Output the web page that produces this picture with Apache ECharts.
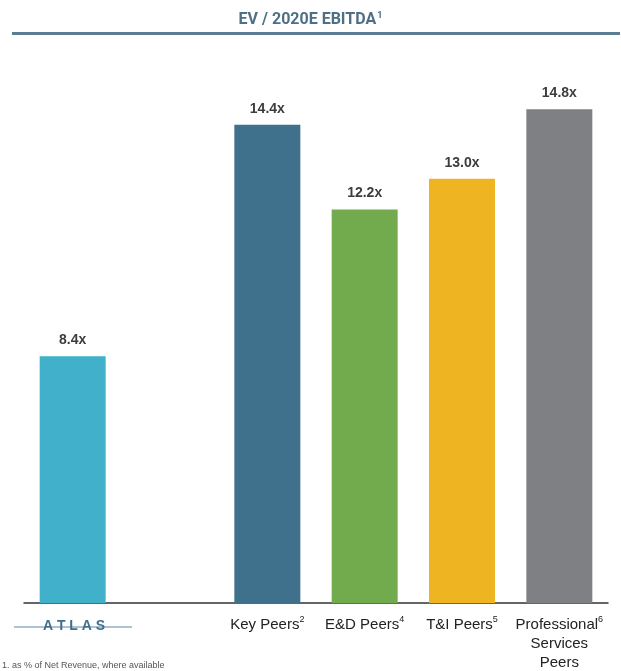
<!DOCTYPE html>
<html>
<head>
<meta charset="utf-8">
<script src="https://cdn.jsdelivr.net/npm/echarts@6/dist/echarts.min.js"></script>
<style>
  html, body { margin: 0; padding: 0; background: #fff; }
  #chart { width: 621px; height: 671px; }
</style>
</head>
<body>
<div id="chart"></div>
<script>
// categories (second slot is an empty gap between Atlas and the peers)
let cats = ['Atlas', '', 'Key Peers', 'E&D Peers', 'T&I Peers', 'Professional Services Peers'];
let notes = ['', '', '2', '4', '5', '6'];
let vals = [8.4, null, 14.4, 12.2, 13.0, 14.8];
let colors = ['#41b1cb', '#ffffff', '#3f718c', '#71ab4d', '#efb422', '#7f8084'];

let chart = echarts.init(document.getElementById('chart'));

chart.setOption({
  animation: false,
  title: {
    text: '{t|EV / 2020E EBITDA}{s|1}',
    left: 'center',
    top: 6,
    textStyle: {
      rich: {
        t: { fontFamily: 'Liberation Sans Narrow, Roboto', fontSize: 16, color: '#4e6f84', fontWeight: 'bold' },
        s: { fontFamily: 'Liberation Sans Narrow, Roboto', fontSize: 9, color: '#4e6f84', fontWeight: 'bold', verticalAlign: 'top', padding: [0, 0, 8, 1] }
      }
    }
  },
  grid: { left: 24, right: 13, top: 63, bottom: 68 },
  xAxis: {
    type: 'category',
    data: cats,
    axisTick: { show: false },
    axisLine: { lineStyle: { color: '#333', width: 1.5 } },
    axisLabel: {
      interval: 0,
      margin: 12,
      formatter: function (v, i) {
        if (i < 2) return '';
        let n = '{s|' + notes[i] + '}';
        if (v == 'Professional Services Peers') {
          return '{t|Professional}' + n + '\n{t|Services}\n{t|Peers}';
        }
        return '{t|' + v + '}' + n;
      },
      rich: {
        t: { fontFamily: 'Liberation Sans, Arial', fontSize: 15, color: '#222', lineHeight: 19 },
        s: { fontFamily: 'Liberation Sans, Arial', fontSize: 9, color: '#222', verticalAlign: 'top', padding: [0, 0, 8, 0], lineHeight: 19 }
      }
    }
  },
  yAxis: {
    type: 'value',
    min: 2,
    max: 16,
    show: false,
    splitLine: { show: false }
  },
  series: [{
    type: 'bar',
    barWidth: 66,
    data: vals.map((v, i) => ({ value: v, itemStyle: { color: colors[i] } })),
    label: {
      show: true,
      position: 'top',
      distance: 9,
      formatter: p => p.value.toFixed(1) + 'x',
      fontFamily: 'Liberation Sans, Arial',
      fontSize: 14,
      fontWeight: 'bold',
      color: '#3d3d3d'
    }
  }],
  graphic: [
    { type: 'rect', shape: { x: 12, y: 32, width: 608, height: 3 }, style: { fill: '#5b7d92' } },
    // atlas logo
    { type: 'line', shape: { x1: 14, y1: 627, x2: 132, y2: 627 }, style: { stroke: '#5b8aa6', lineWidth: 1.2 } },
    { type: 'text', x: 74, y: 626, style: { text: 'A T L A S', align: 'center', verticalAlign: 'middle', fontFamily: 'Liberation Sans, Arial', fontSize: 14, fontWeight: 'bold', fill: '#3f6f8c' } },
    // footnote, cut off at bottom
    { type: 'text', x: 2, y: 661, style: { text: '1. as % of Net Revenue, where available', fontFamily: 'Liberation Sans, Arial', fontSize: 9, fill: '#555' } }
  ]
});
</script>
</body>
</html>
